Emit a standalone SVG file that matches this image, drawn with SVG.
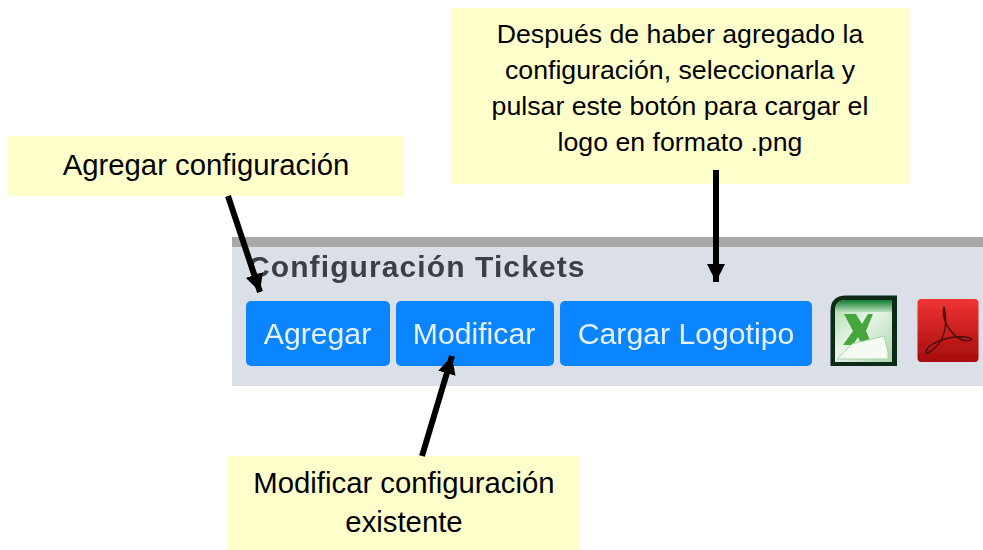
<svg xmlns="http://www.w3.org/2000/svg" width="983" height="550" viewBox="0 0 983 550">
<defs>
<linearGradient id="xl" x1="0" y1="0" x2="1" y2="1"><stop offset="0" stop-color="#a8dba8"/><stop offset="0.45" stop-color="#e8f5e8"/><stop offset="1" stop-color="#a9d6ac"/></linearGradient>
<linearGradient id="xt" x1="0" y1="0" x2="0" y2="1"><stop offset="0" stop-color="#0f7a2e"/><stop offset="1" stop-color="#b9e2bb"/></linearGradient>
<linearGradient id="pdf" x1="0" y1="0" x2="0" y2="1"><stop offset="0" stop-color="#f03434"/><stop offset="1" stop-color="#a50c0c"/></linearGradient>
<marker id="a" markerUnits="userSpaceOnUse" markerWidth="20" markerHeight="20" refX="18" refY="9" orient="auto"><path d="M0 0L18 9L0 18Z" fill="#000"/></marker>
<filter id="soft" x="-5%" y="-5%" width="110%" height="110%"><feGaussianBlur stdDeviation="0.5"/></filter>
</defs>
<style>
.note{fill:#ffffcc}
.t{font-family:"Liberation Sans",Arial,sans-serif;font-size:29.3px;fill:#000;text-anchor:middle}
.s{font-size:26.7px}
.btn{fill:#0a84ff}
.bt{font-family:"Liberation Sans",Arial,sans-serif;font-size:30.2px;fill:#e6f2ff;text-anchor:middle}
.c{stroke:#000;stroke-width:6;fill:none;marker-end:url(#a)}
</style>
<rect width="983" height="550" fill="#fff"/>
<g id="toolbar">
<rect x="232" y="237" width="751" height="149" fill="#dbe0e8"/>
<rect x="232" y="237" width="751" height="10" fill="#a9a9a9"/>
<text x="248" y="277" font-family="'Liberation Sans',Arial,sans-serif" font-size="30" letter-spacing="1.100" font-weight="bold" fill="#3a3f47" filter="url(#soft)">Configuración Tickets</text>
</g>
<g id="btn-agregar"><rect class="btn" x="246" y="301" width="144" height="65" rx="5"/><text class="bt" x="317.500" y="344" filter="url(#soft)">Agregar</text></g>
<g id="btn-modificar"><rect class="btn" x="396" y="301" width="158" height="65" rx="5"/><text class="bt" x="474" y="344" filter="url(#soft)">Modificar</text></g>
<g id="btn-cargar"><rect class="btn" x="560" y="301" width="252" height="65" rx="5"/><text class="bt" x="686" y="344" filter="url(#soft)">Cargar Logotipo</text></g>
<g id="icon-excel" filter="url(#soft)">
<path d="M846 296.500H896V365H831.500V311Q831.500 296.500 846 296.500Z" fill="#0b2a12" stroke="#0b2a12" stroke-width="2"/>
<path d="M846 300H892V362H835V311Q835 300 846 300Z" fill="url(#xl)"/>
<path d="M846 300H892V312H835V311Q835 300 846 300Z" fill="url(#xt)"/>
<path d="M844 314H856L862 324L868 314H871L873 314L866 331L872 345H862L858 337L853 345H843L853 331Z" fill="#45a63c"/>
<path d="M837 359L852 344L884 336L888 352V359Z" fill="#f5faf3" stroke="#a8d2a8" stroke-width="1"/>
</g>
<g id="icon-pdf" filter="url(#soft)">
<rect x="917.500" y="299" width="61" height="63" rx="4" fill="url(#pdf)"/>
<path d="M944 307C948 325 945 343 928 353C925 355 925 349 931 345C942 338 958 335 970 338C975 340 966 343 958 338C950 332 941 320 944 307Z" fill="none" stroke="#4a1010" stroke-width="1.500"/>
</g>
<g id="note-agregar"><rect class="note" x="8" y="136" width="396" height="60"/><text class="t" x="206" y="175">Agregar configuración</text></g>
<g id="note-cargar"><rect class="note" x="451" y="8" width="459" height="176"/>
<text class="t s" x="680" y="43">Después de haber agregado la</text>
<text class="t s" x="680" y="79">configuración, seleccionarla y</text>
<text class="t s" x="680" y="115">pulsar este botón para cargar el</text>
<text class="t s" x="680" y="151">logo en formato .png</text></g>
<g id="note-modificar"><rect class="note" x="228" y="456" width="352" height="94"/>
<text class="t" x="404" y="493">Modificar configuración</text>
<text class="t" x="404" y="532">existente</text></g>
<g id="connectors">
<line class="c" x1="228" y1="196" x2="260" y2="292"/>
<line class="c" x1="716" y1="170" x2="716" y2="282"/>
<line class="c" x1="422" y1="456" x2="452" y2="356"/>
</g>
</svg>
